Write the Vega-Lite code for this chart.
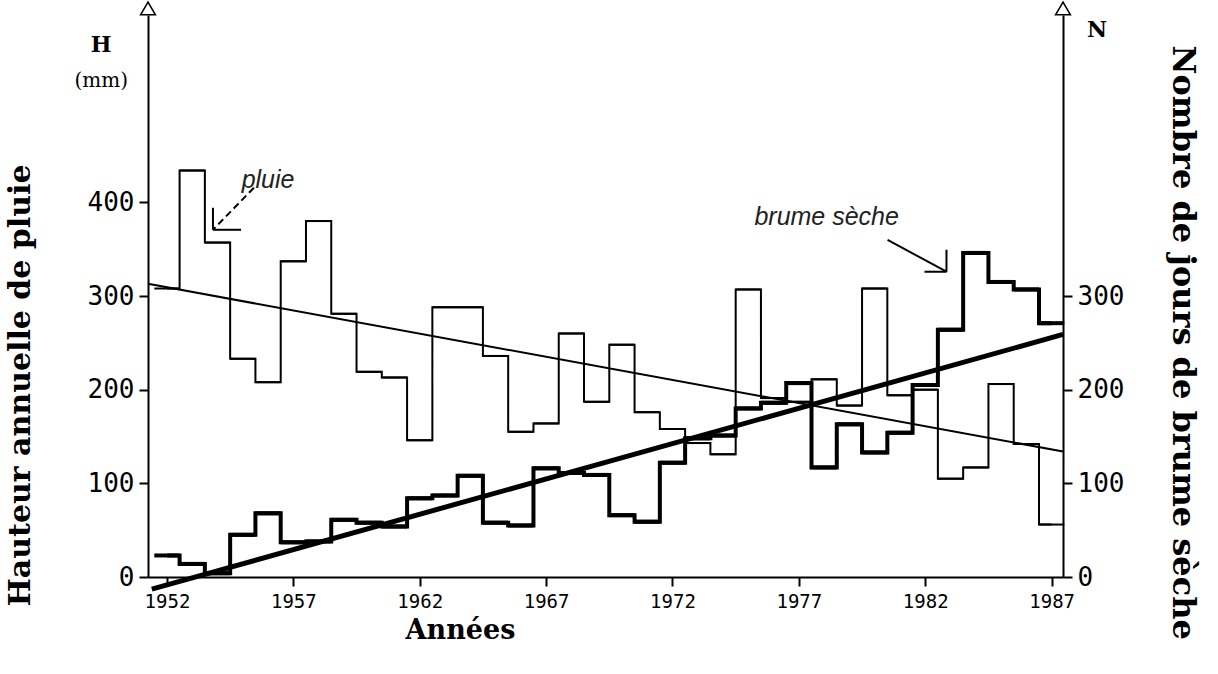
{
  "$schema": "https://vega.github.io/schema/vega-lite/v6.json",
  "width": 915,
  "height": 562,
  "autosize": "none",
  "padding": {"left": 148, "top": 15, "right": 155, "bottom": 97},
  "background": "white",
  "config": {
    "view": {"stroke": null},
    "axis": {"grid": false, "domainColor": "black", "tickColor": "black", "labelColor": "black", "titleColor": "black", "domainWidth": 2, "tickWidth": 2}
  },
  "datasets": {
    "series": [
      {"year": 1952, "pluie": 308, "brume": 23},
      {"year": 1953, "pluie": 434, "brume": 14},
      {"year": 1954, "pluie": 357, "brume": 4},
      {"year": 1955, "pluie": 233, "brume": 45},
      {"year": 1956, "pluie": 208, "brume": 68},
      {"year": 1957, "pluie": 337, "brume": 37},
      {"year": 1958, "pluie": 380, "brume": 38},
      {"year": 1959, "pluie": 281, "brume": 61},
      {"year": 1960, "pluie": 219, "brume": 58},
      {"year": 1961, "pluie": 213, "brume": 54},
      {"year": 1962, "pluie": 146, "brume": 84},
      {"year": 1963, "pluie": 288, "brume": 87},
      {"year": 1964, "pluie": 288, "brume": 108},
      {"year": 1965, "pluie": 236, "brume": 58},
      {"year": 1966, "pluie": 155, "brume": 55},
      {"year": 1967, "pluie": 164, "brume": 116},
      {"year": 1968, "pluie": 260, "brume": 111},
      {"year": 1969, "pluie": 187, "brume": 109},
      {"year": 1970, "pluie": 248, "brume": 66},
      {"year": 1971, "pluie": 176, "brume": 59},
      {"year": 1972, "pluie": 158, "brume": 122},
      {"year": 1973, "pluie": 143, "brume": 148},
      {"year": 1974, "pluie": 131, "brume": 151},
      {"year": 1975, "pluie": 307, "brume": 180},
      {"year": 1976, "pluie": 191, "brume": 186},
      {"year": 1977, "pluie": 187, "brume": 207},
      {"year": 1978, "pluie": 211, "brume": 117},
      {"year": 1979, "pluie": 183, "brume": 163},
      {"year": 1980, "pluie": 308, "brume": 133},
      {"year": 1981, "pluie": 194, "brume": 154},
      {"year": 1982, "pluie": 200, "brume": 205},
      {"year": 1983, "pluie": 105, "brume": 264},
      {"year": 1984, "pluie": 117, "brume": 346},
      {"year": 1985, "pluie": 206, "brume": 315},
      {"year": 1986, "pluie": 142, "brume": 307},
      {"year": 1987, "pluie": 56, "brume": 271}
    ],
    "trendPluie": [
      {"year": 1951.25, "value": 313},
      {"year": 1987.45, "value": 134}
    ],
    "trendBrume": [
      {"year": 1951.4, "value": -13},
      {"year": 1987.45, "value": 259}
    ],
    "labels": [
      {"year": 1956.0, "value": 424, "text": "pluie"},
      {"year": 1978.1, "value": 384, "text": "brume sèche"}
    ],
    "unitsBold": [
      {"year": 1949.4, "value": 568, "text": "H"},
      {"year": 1988.8, "value": 584, "text": "N"}
    ],
    "unitsPlain": [
      {"year": 1949.4, "value": 530, "text": "(mm)"}
    ],
    "arrowsDashed": [
      {"year": 1955.44, "value": 415.6, "year2": 1953.82, "value2": 370.7}
    ],
    "arrowsSolid": [
      {"year": 1953.82, "value": 370.7, "year2": 1954.93, "value2": 370.7},
      {"year": 1953.82, "value": 370.7, "year2": 1953.82, "value2": 394.2},
      {"year": 1980.51, "value": 360.0, "year2": 1982.84, "value2": 325.9},
      {"year": 1982.84, "value": 325.9, "year2": 1982.84, "value2": 349.4},
      {"year": 1982.84, "value": 325.9, "year2": 1981.97, "value2": 325.9}
    ],
    "axisEnds": [
      {"year": 1951.25, "value": 607},
      {"year": 1987.45, "value": 607}
    ]
  },
  "layer": [
    {
      "layer": [
        {
          "data": {"name": "series"},
          "mark": {"type": "line", "interpolate": "step", "color": "black", "strokeWidth": 2},
          "encoding": {
            "x": {
              "field": "year", "type": "quantitative",
              "scale": {"domain": [1951.25, 1987.45], "nice": false, "zero": false},
              "axis": {
                "values": [1952, 1957, 1962, 1967, 1972, 1977, 1982, 1987],
                "format": "d",
                "title": "Années",
                "titleFont": "DejaVu Serif", "titleFontWeight": "bold", "titleFontSize": 27,
                "titleX": 312, "titleY": 53, "titleBaseline": "middle", "titleAlign": "center",
                "labelFont": "Liberation Sans Narrow, DejaVu Sans Mono", "labelFontSize": 19,
                "tickSize": 9, "labelPadding": 6
              }
            },
            "y": {
              "field": "pluie", "type": "quantitative",
              "scale": {"domain": [0, 600], "nice": false},
              "axis": {
                "orient": "left",
                "values": [0, 100, 200, 300, 400],
                "title": "Hauteur annuelle de pluie",
                "titleFont": "DejaVu Serif", "titleFontWeight": "bold", "titleFontSize": 30,
                "titleAngle": 270, "titleX": -128, "titleY": 370, "titleBaseline": "middle", "titleAlign": "center",
                "labelFont": "DejaVu Sans Mono", "labelFontSize": 26,
                "tickSize": 9, "labelPadding": 5
              }
            }
          }
        },
        {
          "data": {"name": "series"},
          "mark": {"type": "tick", "orient": "horizontal", "size": 25.3, "thickness": 2, "color": "black", "opacity": 1},
          "encoding": {
            "x": {"field": "year", "type": "quantitative"},
            "y": {"field": "pluie", "type": "quantitative"}
          }
        },
        {
          "data": {"name": "trendPluie"},
          "mark": {"type": "line", "color": "black", "strokeWidth": 2},
          "encoding": {
            "x": {"field": "year", "type": "quantitative"},
            "y": {"field": "value", "type": "quantitative"}
          }
        },
        {
          "data": {"name": "labels"},
          "mark": {"type": "text", "font": "Liberation Sans", "fontStyle": "italic", "fontSize": 25, "color": "#222"},
          "encoding": {
            "x": {"field": "year", "type": "quantitative"},
            "y": {"field": "value", "type": "quantitative"},
            "text": {"field": "text"}
          }
        },
        {
          "data": {"name": "unitsBold"},
          "mark": {"type": "text", "font": "DejaVu Serif", "fontWeight": "bold", "fontSize": 22, "color": "black"},
          "encoding": {
            "x": {"field": "year", "type": "quantitative"},
            "y": {"field": "value", "type": "quantitative"},
            "text": {"field": "text"}
          }
        },
        {
          "data": {"name": "unitsPlain"},
          "mark": {"type": "text", "font": "DejaVu Serif", "fontSize": 20, "color": "black"},
          "encoding": {
            "x": {"field": "year", "type": "quantitative"},
            "y": {"field": "value", "type": "quantitative"},
            "text": {"field": "text"}
          }
        },
        {
          "data": {"name": "arrowsDashed"},
          "mark": {"type": "rule", "color": "black", "strokeWidth": 2, "strokeDash": [7, 4]},
          "encoding": {
            "x": {"field": "year", "type": "quantitative"},
            "y": {"field": "value", "type": "quantitative"},
            "x2": {"field": "year2"},
            "y2": {"field": "value2"}
          }
        },
        {
          "data": {"name": "arrowsSolid"},
          "mark": {"type": "rule", "color": "black", "strokeWidth": 2},
          "encoding": {
            "x": {"field": "year", "type": "quantitative"},
            "y": {"field": "value", "type": "quantitative"},
            "x2": {"field": "year2"},
            "y2": {"field": "value2"}
          }
        },
        {
          "data": {"name": "axisEnds"},
          "mark": {"type": "point", "shape": "triangle-up", "filled": true, "fill": "white", "stroke": "black", "strokeWidth": 1.5, "size": 220, "opacity": 1},
          "encoding": {
            "x": {"field": "year", "type": "quantitative"},
            "y": {"field": "value", "type": "quantitative"}
          }
        }
      ]
    },
    {
      "layer": [
        {
          "data": {"name": "series"},
          "mark": {"type": "line", "interpolate": "step", "color": "black", "strokeWidth": 4},
          "encoding": {
            "x": {"field": "year", "type": "quantitative"},
            "y": {
              "field": "brume", "type": "quantitative",
              "scale": {"domain": [0, 600], "nice": false},
              "axis": {
                "orient": "right",
                "values": [0, 100, 200, 300],
                "title": "Nombre de jours de brume sèche",
                "titleFont": "DejaVu Serif", "titleFontWeight": "bold", "titleFontSize": 32,
                "titleAngle": 90, "titleX": 119, "titleY": 327, "titleBaseline": "middle", "titleAlign": "center",
                "labelFont": "DejaVu Sans Mono", "labelFontSize": 26,
                "tickSize": 9, "labelPadding": 5
              }
            }
          }
        },
        {
          "data": {"name": "series"},
          "mark": {"type": "tick", "orient": "horizontal", "size": 25.3, "thickness": 4, "color": "black", "opacity": 1},
          "encoding": {
            "x": {"field": "year", "type": "quantitative"},
            "y": {"field": "brume", "type": "quantitative"}
          }
        },
        {
          "data": {"name": "trendBrume"},
          "mark": {"type": "line", "color": "black", "strokeWidth": 5},
          "encoding": {
            "x": {"field": "year", "type": "quantitative"},
            "y": {"field": "value", "type": "quantitative"}
          }
        }
      ]
    }
  ],
  "resolve": {"scale": {"y": "independent"}, "axis": {"y": "independent"}}
}
